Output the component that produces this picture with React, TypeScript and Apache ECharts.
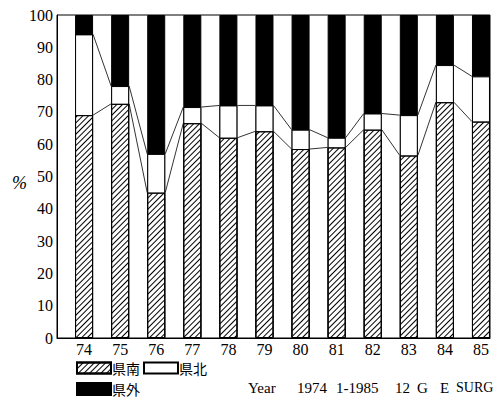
import React, { useEffect, useRef } from "react";
import * as echarts from "echarts";

const years = [74, 75, 76, 77, 78, 79, 80, 81, 82, 83, 84, 85];
const south = [69, 72.5, 45, 66.5, 62, 64, 58.5, 59, 64.5, 56.5, 73, 67];
const north = [25, 5.5, 12, 5, 10, 8, 6, 3, 5, 12.5, 11.5, 14];
const outside = [6, 22, 43, 28.5, 28, 28, 35.5, 38, 30.5, 31, 15.5, 19];
const yTicks = [0, 10, 20, 30, 40, 50, 60, 70, 80, 90, 100];
const footerTexts = ["Year", "1974", "1-1985", "12", "G", "E", "SURG"];
const footerX = [248, 297, 336, 395, 417, 440, 456];

const BAR_W = 18;
const SERIF = "'Liberation Serif', 'DejaVu Serif', serif";
const CJK = "'Noto Sans CJK JP', 'Noto Sans CJK SC', sans-serif";

export default function App() {
  const ref = useRef<HTMLDivElement>(null);
  useEffect(() => {
    if (!ref.current) return;
    const chart = echarts.init(ref.current, undefined, { renderer: "svg" });
    // cumulative tops of each stacked segment
    const cumSouth = south.slice();
    const cumNorth = south.map((v, i) => v + north[i]);
    const cumAll = cumNorth.map((v, i) => v + outside[i]);
    const hatch = {
      symbol: "rect",
      symbolSize: 1,
      dashArrayX: [1, 0],
      dashArrayY: [1, 2.2],
      rotation: -Math.PI / 4,
      color: "#000",
      backgroundColor: "#fff",
    };
    const legendText = {
      fontFamily: CJK,
      fontSize: 14,
      lineHeight: 13,
      color: "#000",
      padding: [0, 0, 0, -4],
    };
    const option: any = {
      animation: false,
      backgroundColor: "#fff",
      grid: {
        left: 57,
        right: 4,
        top: 15,
        bottom: 64,
        show: true,
        borderColor: "#000",
        borderWidth: 1,
        backgroundColor: "transparent",
      },
      xAxis: {
        type: "value",
        min: 73.25,
        max: 85.25,
        splitLine: { show: false },
        axisTick: { show: false },
        axisLine: { show: true, lineStyle: { color: "#000", width: 1 } },
        axisLabel: {
          customValues: years,
          color: "#000",
          fontFamily: SERIF,
          fontSize: 16,
          margin: 3,
          formatter: (v: number) => String(v),
        },
      },
      yAxis: {
        type: "value",
        min: 0,
        max: 100,
        interval: 10,
        splitLine: { show: false },
        axisTick: { show: false },
        axisLine: { show: true, lineStyle: { color: "#000", width: 1 } },
        axisLabel: {
          customValues: yTicks,
          color: "#000",
          fontFamily: SERIF,
          fontSize: 16,
          margin: 4,
        },
      },
      legend: [
        {
          data: ["県南", "県北"],
          left: 76,
          top: 361,
          padding: 0,
          itemWidth: 34,
          itemHeight: 11,
          itemGap: 3,
          icon: "rect",
          textStyle: legendText,
        },
        {
          data: ["県外"],
          left: 76,
          top: 382,
          padding: 0,
          itemWidth: 34,
          itemHeight: 12,
          icon: "rect",
          textStyle: legendText,
        },
      ],
      series: [
        {
          name: "県外",
          type: "bar",
          barWidth: BAR_W,
          barGap: "-100%",
          z: 2,
          data: years.map((y, i) => [y, cumAll[i]]),
          itemStyle: { color: "#000", borderColor: "#000", borderWidth: 1 },
        },
        {
          name: "県北",
          type: "bar",
          barWidth: BAR_W,
          barGap: "-100%",
          z: 3,
          data: years.map((y, i) => [y, cumNorth[i]]),
          itemStyle: { color: "#fff", borderColor: "#000", borderWidth: 1 },
        },
        {
          name: "県南",
          type: "bar",
          barWidth: BAR_W,
          barGap: "-100%",
          z: 4,
          data: years.map((y, i) => [y, cumSouth[i]]),
          itemStyle: { color: "#fff", borderColor: "#000", borderWidth: 1, decal: hatch },
        },
        {
          type: "custom",
          silent: true,
          z: 1,
          data: years.slice(0, -1).map((y, i) => [y, i]),
          encode: { x: 0 },
          renderItem: (params: any, api: any) => {
            const i = params.dataIndex;
            const half = BAR_W / 2;
            const children: any[] = [];
            [cumSouth, cumNorth].forEach((arr) => {
              const p1 = api.coord([years[i], arr[i]]);
              const p2 = api.coord([years[i + 1], arr[i + 1]]);
              children.push({
                type: "line",
                shape: { x1: p1[0] + half, y1: p1[1], x2: p2[0] - half, y2: p2[1] },
                style: { stroke: "#000", lineWidth: 0.8 },
              });
            });
            return { type: "group", children };
          },
        },
      ],
      graphic: [
        {
          type: "text",
          left: 12,
          top: 174,
          style: { text: "%", fontFamily: SERIF, fontSize: 18, fontStyle: "italic", fill: "#000" },
        },
        ...footerTexts.map((t, i) => ({
          type: "text",
          left: footerX[i],
          top: 380,
          style: {
            text: t,
            fontFamily: SERIF,
            fontSize: i === footerTexts.length - 1 ? 14 : 15,
            fill: "#000",
          },
        })),
      ],
    };
    chart.setOption(option);
    return () => chart.dispose();
  }, []);
  return (
    <div
      ref={ref}
      style={{ position: "fixed", left: 0, top: 0, width: 494, height: 402, background: "#fff" }}
    />
  );
}
